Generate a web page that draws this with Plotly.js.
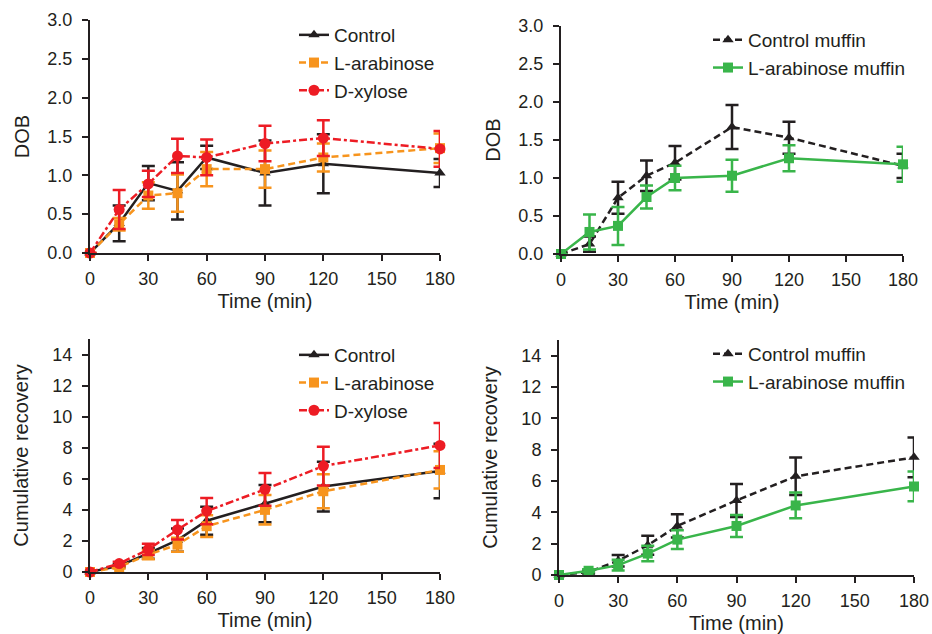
<!DOCTYPE html>
<html>
<head>
<meta charset="utf-8">
<script src="https://cdn.plot.ly/plotly-3.0.1.min.js"></script>
<style>html,body{margin:0;padding:0;background:#fff;}#chart{width:932px;height:634px;}</style>
</head>
<body>
<div id="chart"></div>
<script>
// ---- data ----
const time = [0, 15, 30, 45, 60, 90, 120, 180];
const xTicks = [0, 30, 60, 90, 120, 150, 180];

// Top-left: DOB, monosaccharides
const ctrlDOB     = [0, 0.38, 0.90, 0.80, 1.23, 1.03, 1.15, 1.03];
const ctrlDOBerr  = [0, 0.23, 0.22, 0.37, 0.15, 0.42, 0.38, 0.18];
const araDOB      = [0, 0.37, 0.74, 0.77, 1.08, 1.08, 1.23, 1.35];
const araDOBerr   = [0, 0.08, 0.17, 0.24, 0.22, 0.24, 0.18, 0.19];
const xylDOB      = [0, 0.56, 0.89, 1.25, 1.23, 1.41, 1.48, 1.34];
const xylDOBerr   = [0, 0.25, 0.17, 0.22, 0.23, 0.23, 0.23, 0.23];

// Top-right: DOB, muffins
const ctrlMufDOB    = [0, 0.13, 0.74, 1.03, 1.20, 1.67, 1.53, 1.16];
const ctrlMufDOBerr = [0, 0.10, 0.21, 0.20, 0.22, 0.29, 0.21, 0.16];
const araMufDOB     = [0, 0.29, 0.37, 0.75, 1.00, 1.03, 1.26, 1.18];
const araMufDOBerr  = [0, 0.23, 0.25, 0.15, 0.16, 0.21, 0.17, 0.23];

// Bottom-left: cumulative recovery, monosaccharides
const ctrlCum    = [0, 0.40, 1.20, 2.05, 3.30, 4.40, 5.50, 6.50];
const ctrlCumErr = [0, 0.10, 0.35, 0.75, 0.90, 1.20, 1.60, 1.75];
const araCum     = [0, 0.32, 1.12, 1.76, 2.95, 4.00, 5.20, 6.57];
const araCumErr  = [0, 0.10, 0.30, 0.45, 0.70, 0.95, 1.10, 1.20];
const xylCum     = [0, 0.54, 1.46, 2.72, 3.92, 5.32, 6.82, 8.15];
const xylCumErr  = [0, 0.12, 0.36, 0.62, 0.85, 1.05, 1.25, 1.45];

// Bottom-right: cumulative recovery, muffins
const ctrlMufCum    = [0, 0.19, 0.91, 1.90, 3.13, 4.76, 6.30, 7.51];
const ctrlMufCumErr = [0, 0.10, 0.36, 0.60, 0.74, 1.05, 1.20, 1.27];
const araMufCum     = [0, 0.27, 0.63, 1.37, 2.26, 3.13, 4.44, 5.65];
const araMufCumErr  = [0, 0.10, 0.35, 0.50, 0.60, 0.70, 0.82, 0.95];

const dobTicks = [0, 0.5, 1.0, 1.5, 2.0, 2.5, 3.0];
const cumTicks = [0, 2, 4, 6, 8, 10, 12, 14];

// ---- styling ----
const BLACK = '#231f20', ORANGE = '#f7941d', RED = '#ed1c24', GREEN = '#39b54a';
const FONT = 'Liberation Sans, Arial, Helvetica, sans-serif';
const DASH = '7px,4px', DASHDOT = '8px,3px,3px,3px';

function tr(y, err, name, color, dash, symbol, size, xa, ya, leg) {
  return {
    type: 'scatter', mode: 'lines+markers', x: time, y: y, name: name,
    xaxis: xa, yaxis: ya, legend: leg, cliponaxis: false,
    line: {color: color, width: 2.5, dash: dash},
    marker: {color: color, symbol: symbol, size: size},
    error_y: {type: 'data', array: err, visible: true, color: color, thickness: 2.5, width: 6.5}
  };
}

const data = [
  tr(ctrlDOB, ctrlDOBerr, 'Control', BLACK, 'solid', 'triangle-up', 10, 'x', 'y', 'legend'),
  tr(araDOB, araDOBerr, 'L-arabinose', ORANGE, DASH, 'square', 10, 'x', 'y', 'legend'),
  tr(xylDOB, xylDOBerr, 'D-xylose', RED, DASHDOT, 'circle', 11, 'x', 'y', 'legend'),

  tr(ctrlMufDOB, ctrlMufDOBerr, 'Control muffin', BLACK, DASH, 'triangle-up', 10, 'x2', 'y2', 'legend2'),
  tr(araMufDOB, araMufDOBerr, 'L-arabinose muffin', GREEN, 'solid', 'square', 10, 'x2', 'y2', 'legend2'),

  tr(ctrlCum, ctrlCumErr, 'Control', BLACK, 'solid', 'triangle-up', 10, 'x3', 'y3', 'legend3'),
  tr(araCum, araCumErr, 'L-arabinose', ORANGE, DASH, 'square', 10, 'x3', 'y3', 'legend3'),
  tr(xylCum, xylCumErr, 'D-xylose', RED, DASHDOT, 'circle', 11, 'x3', 'y3', 'legend3'),

  tr(ctrlMufCum, ctrlMufCumErr, 'Control muffin', BLACK, DASH, 'triangle-up', 10, 'x4', 'y4', 'legend4'),
  tr(araMufCum, araMufCumErr, 'L-arabinose muffin', GREEN, 'solid', 'square', 10, 'x4', 'y4', 'legend4')
];

const W = 932, H = 634;
function px(a, b) { return [a / W, b / W]; }
function py(top, bottom) { return [1 - bottom / H, 1 - top / H]; }

function xax(dom, anchor) {
  return {
    domain: dom, anchor: anchor, range: [0, 180], tickvals: xTicks, ticktext: xTicks.map(String),
    showline: true, linecolor: BLACK, linewidth: 2, ticks: 'outside', ticklen: 6, tickwidth: 2, tickcolor: BLACK,
    showgrid: false, zeroline: false, tickfont: {family: FONT, size: 18, color: BLACK},
    ticklabelstandoff: 2,
    title: {text: 'Time (min)', font: {family: FONT, size: 20, color: BLACK}, standoff: 6}
  };
}
function yax(dom, anchor, range, ticks, fmt, title, standoff) {
  return {
    domain: dom, anchor: anchor, range: range, tickvals: ticks, ticktext: ticks.map(v => fmt ? v.toFixed(1) : String(v)),
    showline: true, linecolor: BLACK, linewidth: 2, ticks: 'outside', ticklen: 6, tickwidth: 2, tickcolor: BLACK,
    showgrid: false, zeroline: false, tickfont: {family: FONT, size: 18, color: BLACK},
    ticklabelstandoff: 6,
    title: {text: title, font: {family: FONT, size: 20, color: BLACK}, standoff: standoff}
  };
}
function leg(x, y) {
  return {x: x / W, y: 1 - y / H, xanchor: 'left', yanchor: 'top', bgcolor: 'rgba(0,0,0,0)',
          font: {family: FONT, size: 19, color: BLACK}, itemwidth: 30, tracegroupgap: 0};
}

const layout = {
  width: W, height: H, margin: {l: 0, r: 0, t: 0, b: 0},
  paper_bgcolor: '#fff', plot_bgcolor: '#fff', showlegend: true,
  font: {family: FONT, color: BLACK},
  xaxis: xax(px(90, 440), 'y'),
  yaxis: yax(py(20, 253), 'x', [0, 3], dobTicks, true, 'DOB', 12),
  xaxis2: xax(px(561, 903), 'y2'),
  yaxis2: yax(py(26, 254), 'x2', [0, 3], dobTicks, true, 'DOB', 12),
  xaxis3: xax(px(90, 440), 'y3'),
  yaxis3: yax(py(339, 572), 'x3', [0, 15], cumTicks, false, 'Cumulative recovery', 18),
  xaxis4: xax(px(559, 914), 'y4'),
  yaxis4: yax(py(340, 575), 'x4', [0, 15], cumTicks, false, 'Cumulative recovery', 18),
  legend: leg(294, 16),
  legend2: leg(708, 21),
  legend3: leg(294, 336),
  legend4: leg(708, 335)
};

Plotly.newPlot('chart', data, layout, {displayModeBar: false, staticPlot: true});
</script>
</body>
</html>
